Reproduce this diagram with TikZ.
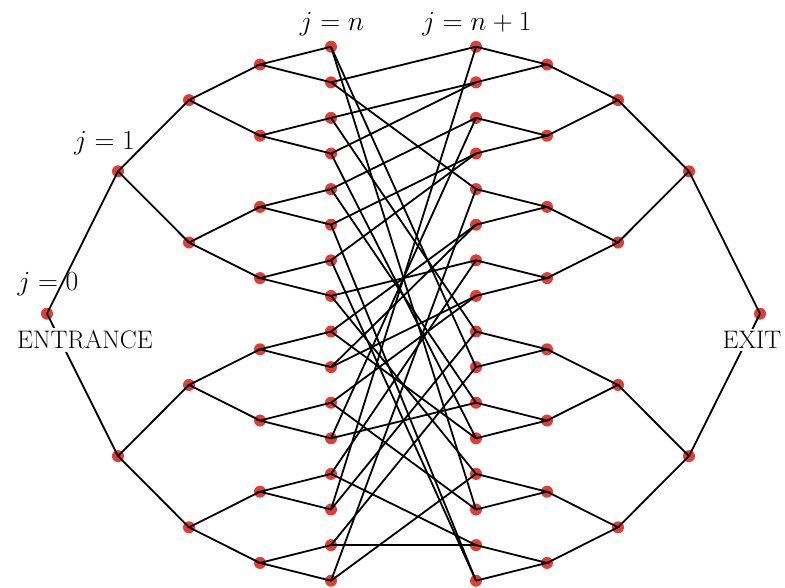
\documentclass[tikz,border=0pt]{standalone}
\usepackage{tikz}
\definecolor{dotred}{RGB}{222,62,52}
\tikzset{
  vertex/.style={circle, fill=dotred, inner sep=0pt, minimum size=9pt},
  wire/.style={line width=1.35pt, black},
  lvl/.style={font=\fontsize{22}{25}\selectfont},
  tag/.style={font=\fontsize{19}{22}\selectfont, fill=white, inner sep=2pt}
}
\begin{document}
\begin{tikzpicture}[x=0.75pt, y=-0.75pt]
  \useasboundingbox (0,0) rectangle (785,587);
  % vertices of the two binary trees
  \node[vertex] (l0-1) at (47,313.7) {};
  \node[vertex] (r0-1) at (760,313.7) {};
  \foreach \m in {1,...,4} {
    \pgfmathtruncatemacro{\cnt}{2^\m}
    \pgfmathsetmacro{\gap}{2^(4-\m)}
    \foreach \i in {1,...,\cnt} {
      \pgfmathsetmacro{\yy}{46.7 + 35.6*((\i-0.5)*\gap - 0.5)}
      \node[vertex] (l\m-\i) at ({47+71*\m}, \yy) {};
      \node[vertex] (r\m-\i) at ({760-71*\m}, \yy) {};
    }
  }
  % tree edges
  \foreach \m in {0,...,3} {
    \pgfmathtruncatemacro{\cnt}{2^\m}
    \pgfmathtruncatemacro{\nx}{\m+1}
    \foreach \i in {1,...,\cnt} {
      \pgfmathtruncatemacro{\ca}{2*\i-1}
      \pgfmathtruncatemacro{\cb}{2*\i}
      \draw[wire] (l\nx-\ca.center) -- (l\m-\i.center) -- (l\nx-\cb.center);
      \draw[wire] (r\nx-\ca.center) -- (r\m-\i.center) -- (r\nx-\cb.center);
    }
  }
  % random gluing of the leaves
  \foreach \a/\b in {1/10, 1/14, 2/1, 2/5, 3/2, 3/9, 4/2, 4/12, 5/3, 5/11,
      6/4, 6/16, 7/4, 7/16, 8/7, 8/13, 9/6, 9/12, 10/6, 10/8, 11/14, 11/8,
      12/11, 12/3, 13/15, 13/7, 14/1, 14/9, 15/15, 15/10, 16/13, 16/5}
    \draw[wire] (l4-\a.center) -- (r4-\b.center);
  % labels
  \node[lvl] (j0) at (48,284.5) {$j=0$};
  \node[lvl] (j1) at (104.5,143) {$j=1$};
  \node[lvl] (jn) at (332,24) {$j=n$};
  \node[lvl] (jn1) at (477,24) {$j=n+1$};
  \node[tag] (entrance) at (85,340) {ENTRANCE};
  \node[tag] (exit) at (752,340) {EXIT};
\end{tikzpicture}
\end{document}
